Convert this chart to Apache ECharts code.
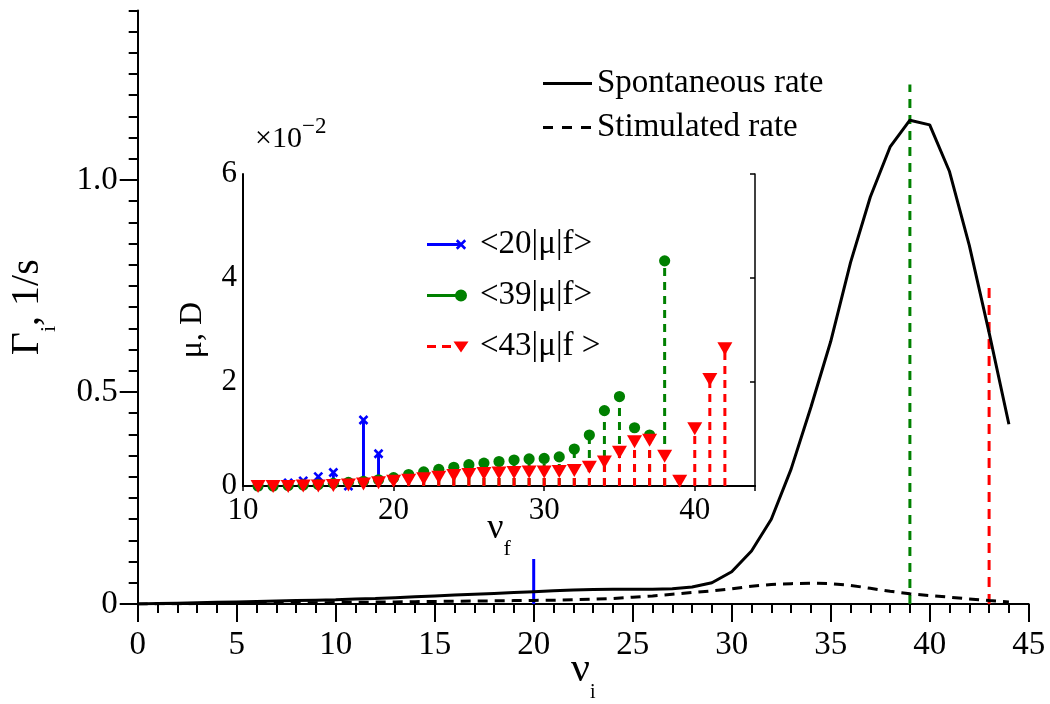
<!DOCTYPE html>
<html>
<head>
<meta charset="utf-8">
<script src="https://cdn.jsdelivr.net/npm/echarts@6/dist/echarts.min.js"></script>
<style>html,body{margin:0;padding:0;background:#fff}#chart{width:1050px;height:704px}</style>
</head>
<body>
<div id="chart"></div>
<script>
// ---------------- data ----------------
const nuI = [0,1,2,3,4,5,6,7,8,9,10,11,12,13,14,15,16,17,18,19,20,21,22,23,24,25,26,27,28,29,30,31,32,33,34,35,36,37,38,39,40,41,42,43,44];
const spontaneousRate = [0,0.001,0.002,0.003,0.004,0.005,0.006,0.007,0.008,0.009,0.010,0.012,0.013,0.015,0.017,0.019,0.021,0.023,0.025,0.027,0.029,0.031,0.033,0.034,0.035,0.035,0.035,0.036,0.040,0.050,0.076,0.125,0.200,0.318,0.464,0.619,0.805,0.960,1.078,1.141,1.130,1.020,0.846,0.640,0.424];
const stimulatedRate = [0,0.0003,0.0006,0.001,0.0013,0.0016,0.002,0.0023,0.0027,0.003,0.0035,0.004,0.0045,0.005,0.0055,0.006,0.0065,0.007,0.0075,0.008,0.0085,0.009,0.010,0.0115,0.013,0.016,0.019,0.023,0.027,0.031,0.036,0.042,0.046,0.048,0.049,0.048,0.044,0.037,0.030,0.024,0.020,0.016,0.012,0.008,0.005];
// marked initial levels (vertical lines in main plot)
const levelNu = [20, 39, 43];
const levelTop = [0.106, 1.225, 0.76];
// inset: transition dipole moments, units of 1e-2 D
const nuF20 = [11,12,13,14,15,16,17,18,19];
const mu20 = [0.01,0.02,0.06,0.10,0.18,0.26,0.0,1.27,0.62];
const nuF39 = [11,12,13,14,15,16,17,18,19,20,21,22,23,24,25,26,27,28,29,30,31,32,33,34,35,36,37,38];
const mu39 = [0.0,0.0,0.01,0.02,0.03,0.05,0.07,0.09,0.12,0.16,0.22,0.27,0.32,0.36,0.41,0.44,0.47,0.50,0.52,0.53,0.56,0.71,0.98,1.45,1.72,1.12,0.98,4.33];
const nuF43 = [11,12,13,14,15,16,17,18,19,20,21,22,23,24,25,26,27,28,29,30,31,32,33,34,35,36,37,38,39,40,41,42];
const mu43 = [0.0,0.0,0.0,0.01,0.01,0.02,0.03,0.05,0.07,0.10,0.12,0.15,0.18,0.21,0.23,0.25,0.26,0.27,0.28,0.28,0.29,0.31,0.37,0.47,0.66,0.86,0.89,0.58,0.10,1.11,2.06,2.65];
const mainYLabels = [0, 0.5, 1.0];
const seriesNames = ['Spontaneous rate', 'Stimulated rate', '<20|μ|f>', '<39|μ|f>', '<43|μ|f >'];

// ---------------- styles ----------------
const FONT = "'Liberation Serif','Times New Roman',Times,serif";
const BLUE = '#0000ff', GREEN = '#008000', RED = '#ff0000';
const levelColors = [BLUE, GREEN, RED];
const levelDash = ['solid', [9, 7], [10, 7]];

function pairs(xs, ys) { return xs.map((x, i) => [x, ys[i]]); }

function stemSeries(name, xs, ys, color, dash, marker) {
  return {
    type: 'custom', name: name, xAxisIndex: 1, yAxisIndex: 1,
    data: pairs(xs, ys), encode: { x: 0, y: 1 }, z: 5, clip: false,
    itemStyle: { color: color },
    renderItem: function (params, api) {
      const b = api.coord([api.value(0), 0]);
      const t = api.coord([api.value(0), api.value(1)]);
      const ch = [{ type: 'line', shape: { x1: b[0], y1: b[1], x2: t[0], y2: t[1] },
        style: { stroke: color, lineWidth: 3, lineDash: dash } }];
      const cx = t[0], cy = t[1];
      if (marker === 'circle') {
        ch.push({ type: 'circle', shape: { cx: cx, cy: cy, r: 5.6 }, style: { fill: color } });
      } else if (marker === 'tri') {
        ch.push({ type: 'polygon', shape: { points: [[cx - 7.5, cy - 6], [cx + 7.5, cy - 6], [cx, cy + 7]] }, style: { fill: color } });
      } else {
        ch.push({ type: 'line', shape: { x1: cx - 4, y1: cy - 4, x2: cx + 4, y2: cy + 4 }, style: { stroke: color, lineWidth: 2.6 } });
        ch.push({ type: 'line', shape: { x1: cx - 4, y1: cy + 4, x2: cx + 4, y2: cy - 4 }, style: { stroke: color, lineWidth: 2.6 } });
      }
      return { type: 'group', children: ch };
    }
  };
}

const BOX = 'M0,0 L0.01,0 Z M48,16 L47.99,16 Z ';
const iconCross = 'path://' + BOX + 'M0,6.5 L0,9.5 L33,9.5 L33,6.5 Z M37.32,13.16 L39.16,11.32 L30.68,2.84 L28.84,4.68 Z M39.16,4.68 L37.32,2.84 L28.84,11.32 L30.68,13.16 Z';
const iconCircle = 'path://' + BOX + 'M0,6.5 L0,9.5 L28.2,9.5 L28.2,6.5 Z M28,8 A6,6 0 1,0 40,8 A6,6 0 1,0 28,8 Z';
const iconTri = 'path://' + BOX + 'M0,6.5 L0,9.5 L9,9.5 L9,6.5 Z M15,6.5 L15,9.5 L24,9.5 L24,6.5 Z M26.5,3 L41.5,3 L34,14 Z';
const BOX2 = 'M0,0 L0.01,0 Z M49,14 L48.99,14 Z ';
const iconSolid = 'path://' + BOX2 + 'M0,5.5 L0,8.5 L49,8.5 L49,5.5 Z';
const iconDashed = 'path://' + BOX2 + 'M0,5.5 L0,8.5 L10,8.5 L10,5.5 Z M19,5.5 L19,8.5 L29,8.5 L29,5.5 Z M38,5.5 L38,8.5 L48,8.5 L48,5.5 Z';

const subRich = function (big, small, pad) {
  return {
    a: { fontFamily: FONT, fontSize: big, color: '#000', lineHeight: big },
    s: { fontFamily: FONT, fontSize: small, color: '#000', lineHeight: small, padding: [pad, 0, 0, 0] }
  };
};

const levelSeries = levelNu.map((nu, i) => ({
  type: 'line', name: 'level ' + nu, xAxisIndex: 0, yAxisIndex: 0,
  data: [[nu, 0], [nu, levelTop[i]]], symbol: 'none', z: 1,
  lineStyle: { color: levelColors[i], width: 3, type: levelDash[i] }
}));

const option = {
  backgroundColor: '#fff',
  animation: false,
  grid: [
    { left: 137.7, right: 21.3, top: 10.4, bottom: 100, outerBoundsMode: 'none', containLabel: false },
    { left: 243, top: 174, width: 512, height: 312, show: true, backgroundColor: '#fff', borderWidth: 0, z: 3, outerBoundsMode: 'none', containLabel: false }
  ],
  xAxis: [
    {
      gridIndex: 0, type: 'value', min: 0, max: 45, interval: 5,
      axisLine: { lineStyle: { color: '#000', width: 2 } },
      axisTick: { inside: false, length: 18, lineStyle: { color: '#000', width: 2 } },
      minorTick: { show: true, splitNumber: 5, length: 9, lineStyle: { color: '#000', width: 2 } },
      splitLine: { show: false },
      axisLabel: { fontFamily: FONT, fontSize: 33, color: '#000', margin: 25 },
      name: '{a|ν}{s|i}', nameLocation: 'middle', nameGap: 45, nameMoveOverlap: false,
      nameTextStyle: { rich: subRich(42, 20, 46) }
    },
    {
      gridIndex: 1, type: 'value', min: 10, max: 44, interval: 10, z: 4,
      axisLine: { lineStyle: { color: '#000', width: 2 } },
      axisTick: { show: false }, splitLine: { show: false },
      axisLabel: { fontFamily: FONT, fontSize: 31, color: '#000', margin: 9, showMaxLabel: false },
      name: '{a|ν}{s|f}', nameLocation: 'middle', nameGap: 25, nameMoveOverlap: false,
      nameTextStyle: { rich: subRich(36, 22, 40) }
    },
    {
      gridIndex: 1, type: 'value', min: 10, max: 44, interval: 10, position: 'top', z: 4,
      axisLine: { lineStyle: { color: '#000', width: 1.5 } },
      axisTick: { inside: true, length: 5, lineStyle: { color: '#000', width: 1.5 } },
      axisLabel: { show: false }, splitLine: { show: false }
    }
  ],
  yAxis: [
    {
      gridIndex: 0, type: 'value', min: 0, max: 1.4, position: 'left',
      axisLine: { lineStyle: { color: '#000', width: 2 } },
      axisTick: { inside: false, length: 18, customValues: mainYLabels, lineStyle: { color: '#000', width: 2 } },
      splitLine: { show: false },
      axisLabel: { customValues: mainYLabels, fontFamily: FONT, fontSize: 33, color: '#000', margin: 20,
        formatter: v => (v === 0 ? '0' : v.toFixed(1)) },
      name: '{a|Γ}{s|i}{a|, 1/s}', nameLocation: 'middle', nameRotate: 90, nameGap: 90, nameMoveOverlap: false,
      nameTextStyle: { rich: subRich(40, 22, 44) }
    },
    {
      gridIndex: 1, type: 'value', min: 0, max: 6, interval: 2, z: 4, position: 'left',
      axisLine: { lineStyle: { color: '#000', width: 2 } },
      axisTick: { show: false }, splitLine: { show: false },
      axisLabel: { fontFamily: FONT, fontSize: 31, color: '#000', margin: 6 },
      name: 'μ, D', nameLocation: 'middle', nameRotate: 90, nameGap: 34, nameMoveOverlap: false,
      nameTextStyle: { fontFamily: FONT, fontSize: 32, color: '#000' }
    },
    {
      gridIndex: 0, type: 'value', min: 0, max: 1.4, interval: 0.05, position: 'left', offset: 0,
      axisLine: { show: false },
      axisTick: { inside: false, length: 9, lineStyle: { color: '#000', width: 2 } },
      axisLabel: { show: false }, splitLine: { show: false }
    },
    {
      gridIndex: 1, type: 'value', min: 0, max: 6, interval: 2, position: 'right', z: 4,
      axisLine: { lineStyle: { color: '#000', width: 1.5 } },
      axisTick: { inside: true, length: 5, lineStyle: { color: '#000', width: 1.5 } },
      axisLabel: { show: false }, splitLine: { show: false }
    }
  ],
  legend: [
    {
      data: [
        { name: seriesNames[0], icon: iconSolid, itemStyle: { color: '#000', borderWidth: 0 } },
        { name: seriesNames[1], icon: iconDashed, itemStyle: { color: '#000', borderWidth: 0 } }
      ],
      orient: 'vertical', left: 543, top: 67, padding: 0,
      itemWidth: 49, itemHeight: 14, itemGap: 11, selectedMode: false,
      textStyle: { fontFamily: FONT, fontSize: 33, color: '#000', lineHeight: 33 }
    },
    {
      data: [
        { name: seriesNames[2], icon: iconCross, itemStyle: { color: BLUE, borderWidth: 0 } },
        { name: seriesNames[3], icon: iconCircle, itemStyle: { color: GREEN, borderWidth: 0 } },
        { name: seriesNames[4], icon: iconTri, itemStyle: { color: RED, borderWidth: 0 } }
      ],
      orient: 'vertical', left: 427, top: 228, z: 6, padding: 0,
      itemWidth: 48, itemHeight: 16, itemGap: 18, selectedMode: false,
      textStyle: { fontFamily: FONT, fontSize: 33, color: '#000', lineHeight: 33 }
    }
  ],
  graphic: [
    {
      type: 'text', x: 255, y: 124, z: 10,
      style: {
        text: '{a|×10}{p|−2}', verticalAlign: 'top',
        rich: {
          a: { fontFamily: FONT, fontSize: 30, color: '#000', lineHeight: 30 },
          p: { fontFamily: FONT, fontSize: 23, color: '#000', lineHeight: 23, padding: [0, 0, 25, 0] }
        }
      }
    }
  ],
  series: [
    {
      type: 'line', name: seriesNames[0], xAxisIndex: 0, yAxisIndex: 0,
      data: pairs(nuI, spontaneousRate), symbol: 'none', z: 2,
      lineStyle: { color: '#000', width: 3 }, itemStyle: { color: '#000' }
    },
    {
      type: 'line', name: seriesNames[1], xAxisIndex: 0, yAxisIndex: 0,
      data: pairs(nuI, stimulatedRate), symbol: 'none', z: 2,
      lineStyle: { color: '#000', width: 3, type: [10, 7] }, itemStyle: { color: '#000' }
    }
  ].concat(levelSeries).concat([
    stemSeries(seriesNames[2], nuF20, mu20, BLUE, null, 'cross'),
    stemSeries(seriesNames[3], nuF39, mu39, GREEN, [8, 6], 'circle'),
    stemSeries(seriesNames[4], nuF43, mu43, RED, [8, 6], 'tri')
  ])
};

const chart = echarts.init(document.getElementById('chart'), null, { renderer: 'canvas' });
chart.setOption(option);
</script>
</body>
</html>
